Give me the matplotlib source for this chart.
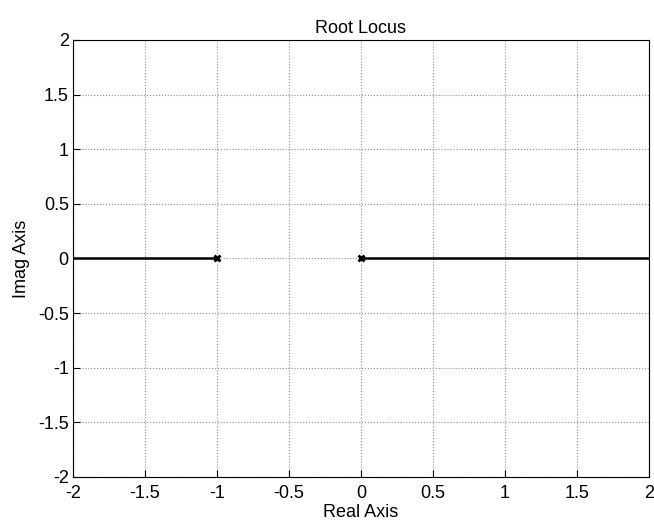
import matplotlib
matplotlib.use("Agg")
import matplotlib.pyplot as plt

# open-loop poles and the locus branches on the real axis
poles_re = [-1.0, 0.0]
poles_im = [0.0, 0.0]
branch_left_re = [-2.0, -1.0]
branch_right_re = [0.0, 2.0]
ticks = [-2, -1.5, -1, -0.5, 0, 0.5, 1, 1.5, 2]
tick_labels = ['-2', '-1.5', '-1', '-0.5', '0', '0.5', '1', '1.5', '2']

plt.rcParams['font.family'] = ['Liberation Sans', 'DejaVu Sans']

fig = plt.figure(figsize=(6.54, 5.23), dpi=100)
ax = fig.add_axes([0.1116, 0.088, 0.8807, 0.8356])

ax.plot(branch_left_re, [0, 0], color='black', linewidth=1.8)
ax.plot(branch_right_re, [0, 0], color='black', linewidth=1.8)
ax.plot(poles_re, poles_im, 'x', color='black', markersize=5, markeredgewidth=2)

ax.set_xlim(-2, 2)
ax.set_ylim(-2, 2)
ax.set_xticks(ticks)
ax.set_xticklabels(tick_labels)
ax.set_yticks(ticks)
ax.set_yticklabels(tick_labels)
ax.tick_params(direction='in', labelsize=13, length=5)
ax.tick_params(axis='x', pad=6)
ax.tick_params(axis='y', pad=3)
ax.grid(True, linestyle=':', color='#888888', linewidth=0.8)

ax.set_title('Root Locus', fontsize=13, pad=5)
ax.set_xlabel('Real Axis', fontsize=13, labelpad=1)
ax.set_ylabel('Imag Axis', fontsize=13, labelpad=6)

fig.savefig('out.png', dpi=100)
